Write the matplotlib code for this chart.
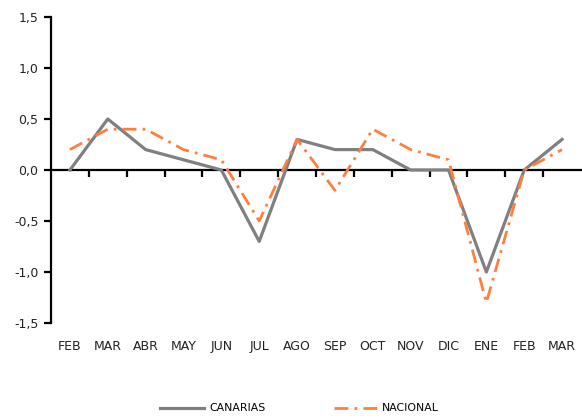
import numpy as np
import matplotlib.pyplot as plt
import matplotlib.transforms as mtransforms

meses = ['FEB', 'MAR', 'ABR', 'MAY', 'JUN', 'JUL', 'AGO', 'SEP', 'OCT', 'NOV', 'DIC', 'ENE', 'FEB', 'MAR']
canarias = [0.0, 0.5, 0.2, 0.1, 0.0, -0.7, 0.3, 0.2, 0.2, 0.0, 0.0, -1.0, 0.0, 0.3]
nacional = [0.2, 0.4, 0.4, 0.2, 0.1, -0.5, 0.3, -0.2, 0.4, 0.2, 0.1, -1.3, 0.0, 0.2]
yticks = [-1.5, -1.0, -0.5, 0.0, 0.5, 1.0, 1.5]

fig = plt.figure(figsize=(5.82, 4.19), dpi=100)
ax = fig.add_axes([51/582, 1 - 323/419, 530/582, 306/419])

x = np.arange(len(meses))
ax.plot(x, canarias, color='#808080', lw=2.3, label='CANARIAS', zorder=3)
ax.plot(x, nacional, color='#ff7f3f', lw=2.0, linestyle=(0, (5, 2.2, 1, 2.2)),
        label='NACIONAL', zorder=3)

ax.set_xlim(-0.5, len(meses) - 0.5)
ax.set_ylim(-1.5, 1.5)

ax.spines['top'].set_visible(False)
ax.spines['right'].set_visible(False)
ax.spines['bottom'].set_position(('data', 0))
ax.spines['left'].set_linewidth(1.6)
ax.spines['bottom'].set_linewidth(1.6)

ax.set_yticks(yticks)
ax.set_yticklabels([('%.1f' % v).replace('.', ',') for v in yticks], fontsize=9, color='#222222')
ax.tick_params(axis='y', direction='out', length=5, width=1.6, pad=4)

ax.set_xticks(np.arange(0.5, len(meses) - 0.5, 1.0))
ax.set_xticklabels([])
ax.tick_params(axis='x', direction='out', length=5, width=1.6)

trans = mtransforms.blended_transform_factory(ax.transData, ax.transAxes)
for i, m in enumerate(meses):
    ax.text(i, -0.077, m, transform=trans, ha='center', va='center', fontsize=9, color='#222222')

leg = fig.legend(loc='lower center', bbox_to_anchor=(0.515, -0.01), ncol=2, frameon=False,
                 fontsize=7.8, handlelength=4.0, columnspacing=6.3, handletextpad=0.5)

fig.savefig('out.png', dpi=100)
